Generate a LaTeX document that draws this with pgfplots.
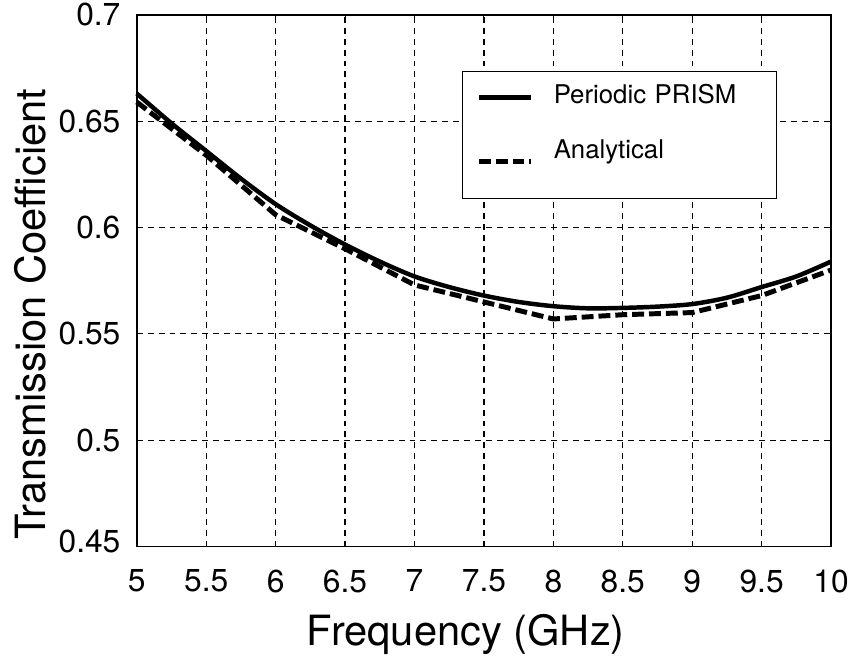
\documentclass[border=0pt]{standalone}
\usepackage{fontspec}
\setmainfont{TeX Gyre Heros}
\usepackage{pgfplots}
\pgfplotsset{compat=1.18}
\begin{document}
\begin{tikzpicture}
\begin{axis}[
  scale only axis, width=700pt, height=536pt,
  xmin=5, xmax=10, ymin=0.45, ymax=0.7,
  clip=false,
  xtick={5,5.5,6,6.5,7,7.5,8,8.5,9,9.5,10},
  xticklabels={5,5.5,6,6.5,7,7.5,8,8.5,9,9.5,10},
  ytick={0.45,0.5,0.55,0.6,0.65,0.7},
  yticklabels={\raisebox{10pt}{0.45},0.5,0.55,0.6,0.65,0.7},
  grid=major,
  major grid style={black, line width=1.2pt, dash pattern=on 6pt off 5pt},
  axis line style={line width=1.5pt},
  tick style={black, line width=1pt}, major tick length=5pt, tick align=inside,
  ticklabel style={font=\fontsize{32}{38}\selectfont},
  xticklabel style={yshift=-20pt},
  yticklabel style={xshift=-13pt},
  xlabel={Frequency (GHz)},
  ylabel={Transmission Coefficient},
  xlabel style={font=\fontsize{42}{50}\selectfont, at={(axis description cs:0.474,-0.166)}, anchor=center},
  ylabel style={font=\fontsize{42}{50}\selectfont, at={(axis description cs:-0.154,0.437)}, anchor=center},
  legend style={at={(axis description cs:0.4686,0.8937)}, anchor=north west,
    draw=black, line width=0.8pt, fill=white, font=\fontsize{26}{30}\selectfont,
    row sep=0pt, inner xsep=14pt, inner ysep=0pt, nodes={inner sep=0pt},
    /tikz/every odd column/.append style={column sep=20pt}},
  legend cell align=left,
  legend image code/.code={\draw[#1] (0pt,0pt) -- (53pt,0pt);},
]
\addplot[black, line width=4.5pt, smooth] coordinates {
(5,0.663) (5.25,0.649) (5.5,0.636) (5.75,0.623) (6,0.611) (6.25,0.601)
(6.5,0.592) (6.75,0.584) (7,0.577) (7.25,0.572) (7.5,0.568) (7.75,0.565)
(8,0.563) (8.25,0.562) (8.5,0.5622) (8.75,0.5628) (9,0.564) (9.25,0.567)
(9.5,0.572) (9.75,0.577) (10,0.584)
};
\addlegendentry[text height=32pt, text depth=20pt, text width=210pt]{Periodic PRISM}
\addplot[black, line width=5pt, dash pattern=on 12pt off 5pt] coordinates {
(5,0.659) (5.5,0.634) (6,0.606) (6.5,0.590) (7,0.573) (7.5,0.565)
(8,0.557) (8.5,0.559) (9,0.560) (9.5,0.568) (10,0.580)
};
\addlegendentry[text height=35pt, text depth=41pt]{Analytical}
\path (axis description cs:-0.197,-0.2127) rectangle (axis description cs:1.02,1.028);
\end{axis}
\end{tikzpicture}
\end{document}
